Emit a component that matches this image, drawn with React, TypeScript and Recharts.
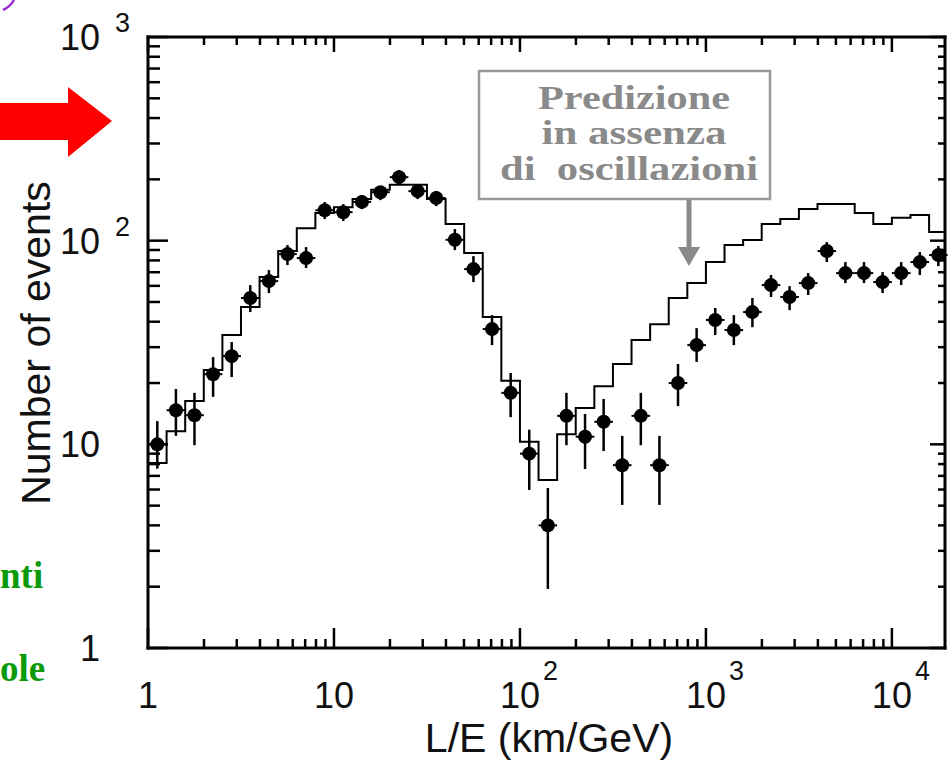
import React from "react";
import { ComposedChart, Line, Scatter, ErrorBar, XAxis, YAxis } from "recharts";

// L/E bins, 0.1 decade wide (km/GeV)
const binEdges = [
  1, 1.259, 1.585, 1.995, 2.512, 3.162, 3.981, 5.012, 6.31, 7.943,
  10, 12.59, 15.85, 19.95, 25.12, 31.62, 39.81, 50.12, 63.1, 79.43,
  100, 125.9, 158.5, 199.5, 251.2, 316.2, 398.1, 501.2, 631, 794.3,
  1000, 1259, 1585, 1995, 2512, 3162, 3981, 5012, 6310, 7943,
  10000, 12589, 15849, 19953,
];
const binCenters = [
  1.122, 1.413, 1.778, 2.239, 2.818, 3.548, 4.467, 5.623, 7.079, 8.913,
  11.22, 14.13, 17.78, 22.39, 28.18, 35.48, 44.67, 56.23, 70.79, 89.13,
  112.2, 141.3, 177.8, 223.9, 281.8, 354.8, 446.7, 562.3, 707.9, 891.3,
  1122, 1413, 1778, 2239, 2818, 3548, 4467, 5623, 7079, 8913,
  11220, 14130, 17780,
];

// observed events per bin, with error bar ends
const observed = [
  10, 14.7, 13.9, 22.1, 27.1, 52.3, 63.3, 85.9, 82.1, 141,
  138, 155, 173, 205, 175, 162, 101, 72.5, 36.8, 17.9,
  9, 4, 13.8, 10.9, 12.9, 7.9, 13.8, 7.9, 20, 30.7,
  40.8, 36.4, 44.6, 60.5, 52.9, 61.9, 88.9, 69.3, 69.3, 62.6,
  69.3, 78.5, 85,
];
const observedLow = [
  7.6, 11.0, 9.9, 17.1, 21.4, 44.6, 55.3, 75.9, 73.4, 127.6,
  124.8, 142.9, 158.2, 189.6, 160.0, 147.8, 89.9, 62.6, 30.7, 13.6,
  5.97, 1.95, 9.9, 7.56, 9.27, 5.04, 9.9, 5.04, 15.4, 25.4,
  34.4, 30.7, 37.6, 52.9, 45.6, 54.1, 78.5, 61.9, 61.9, 55.3,
  60.5, 67.8, 75.0,
];
const observedHigh = [
  13.0, 18.7, 17.9, 26.8, 31.8, 60.5, 71.7, 95.1, 93.0, 154.7,
  151.2, 167.5, 185.3, 222.2, 187.5, 175.2, 114.0, 84.0, 43.1, 22.4,
  11.8, 6.1, 17.9, 14.1, 16.7, 11.0, 17.9, 11.0, 24.8, 37.2,
  46.7, 43.1, 52.3, 67.8, 59.8, 69.3, 98.4, 78.5, 78.5, 70.1,
  78.5, 87.9, 94.1,
];

// prediction without oscillations, one height per bin
const noOscillation = [
  8.1, 11.6, 16.3, 23.2, 34.4, 47.2, 66.3, 88.9, 115, 136.6,
  146, 160, 178, 188, 188, 160, 120.6, 86.9, 42.2, 20.5,
  10.3, 6.68, 11.2, 15.1, 19.3, 24.8, 32.5, 38.9, 52.3, 61.9,
  78.5, 95.1, 100.7, 120.6, 127.6, 142.9, 151.2, 151.2, 136.6, 120.6,
  129.5, 133.5, 110.3,
];

const xTicks = [
  1, 2, 3, 4, 5, 6, 7, 8, 9,
  10, 20, 30, 40, 50, 60, 70, 80, 90,
  100, 200, 300, 400, 500, 600, 700, 800, 900,
  1000, 2000, 3000, 4000, 5000, 6000, 7000, 8000, 9000,
  10000,
];
const yTicks = [
  1, 2, 3, 4, 5, 6, 7, 8, 9,
  10, 20, 30, 40, 50, 60, 70, 80, 90,
  100, 200, 300, 400, 500, 600, 700, 800, 900,
  1000,
];

const points = binCenters.map((x, i) => ({
  x,
  y: observed[i],
  yErr: [observed[i] - observedLow[i], observedHigh[i] - observed[i]],
  xErr: [x - binEdges[i], binEdges[i + 1] - x],
}));

const histogram = noOscillation
  .map((y, i) => ({ x: binEdges[i], y }))
  .concat([{ x: binEdges[binEdges.length - 1], y: noOscillation[noOscillation.length - 1] }]);

const SANS = "'Liberation Sans', Arial, Helvetica, sans-serif";
const SERIF = "'Liberation Serif', 'Times New Roman', serif";

function decade(v: number) {
  const e = Math.round(Math.log10(v));
  return { e, major: Math.abs(Math.log10(v) - e) < 1e-6 };
}

function BottomTick(props: any) {
  const { x, y, payload } = props;
  const { e, major } = decade(payload.value);
  return (
    <g>
      <line x1={x} x2={x} y1={y} y2={y - (major ? 20 : 9)} stroke="#000" strokeWidth={2.5} />
      {major && (
        <text x={x} y={y + 60} textAnchor="middle" fontSize={36} fontFamily={SANS} fill="#111">
          {e === 0 ? "1" : "10"}
        </text>
      )}
      {major && e >= 2 && (
        <text x={x + 23} y={y + 32} fontSize={27} fontFamily={SANS} fill="#111">
          {e}
        </text>
      )}
    </g>
  );
}

function TopTick(props: any) {
  const { x, y, payload } = props;
  const { major } = decade(payload.value);
  return <line x1={x} x2={x} y1={y} y2={y + (major ? 15 : 8)} stroke="#000" strokeWidth={2.5} />;
}

function LeftTick(props: any) {
  const { x, y, payload } = props;
  const { e, major } = decade(payload.value);
  return (
    <g>
      <line x1={x} x2={x + (major ? 20 : 12)} y1={y} y2={y} stroke="#000" strokeWidth={2.5} />
      {major && (
        <text x={x - 48} y={y + 13} textAnchor="end" fontSize={36} fontFamily={SANS} fill="#111">
          {e === 0 ? "1" : "10"}
        </text>
      )}
      {major && e >= 2 && (
        <text x={x - 33} y={y - 5} fontSize={27} fontFamily={SANS} fill="#111">
          {e}
        </text>
      )}
    </g>
  );
}

function RightTick(props: any) {
  const { x, y, payload } = props;
  const { major } = decade(payload.value);
  return <line x1={x} x2={x - (major ? 15 : 7)} y1={y} y2={y} stroke="#000" strokeWidth={2.5} />;
}

const Dot = (props: any) => <circle cx={props.cx} cy={props.cy} r={7} fill="#000" />;

const frame = { stroke: "#000", strokeWidth: 3, strokeLinecap: "square" as const };

export default function App() {
  return (
    <div
      style={{
        position: "absolute",
        left: 0,
        top: 0,
        width: 949,
        height: 763,
        overflow: "hidden",
        background: "#fff",
      }}
    >
      <ComposedChart width={949} height={763} margin={{ top: 36, right: 3, bottom: 0, left: 0 }}>
        <XAxis
          xAxisId="b"
          dataKey="x"
          type="number"
          scale="log"
          domain={[1, 19300]}
          allowDataOverflow
          ticks={xTicks}
          interval={0}
          height={115}
          tickSize={0}
          tickMargin={0}
          tickLine={false}
          axisLine={frame}
          tick={(p: any) => <BottomTick {...p} />}
        />
        <XAxis
          xAxisId="t"
          orientation="top"
          dataKey="x"
          type="number"
          scale="log"
          domain={[1, 19300]}
          allowDataOverflow
          ticks={xTicks}
          interval={0}
          height={1}
          tickSize={0}
          tickMargin={0}
          tickLine={false}
          axisLine={frame}
          tick={(p: any) => <TopTick {...p} />}
        />
        <YAxis
          yAxisId="l"
          dataKey="y"
          type="number"
          scale="log"
          domain={[1, 1000]}
          allowDataOverflow
          ticks={yTicks}
          interval={0}
          width={148}
          tickSize={0}
          tickMargin={0}
          tickLine={false}
          axisLine={frame}
          tick={(p: any) => <LeftTick {...p} />}
        />
        <YAxis
          yAxisId="r"
          orientation="right"
          dataKey="y"
          type="number"
          scale="log"
          domain={[1, 1000]}
          allowDataOverflow
          ticks={yTicks}
          interval={0}
          width={1}
          tickSize={0}
          tickMargin={0}
          tickLine={false}
          axisLine={frame}
          tick={(p: any) => <RightTick {...p} />}
        />
        <Line
          xAxisId="b"
          yAxisId="l"
          data={histogram}
          dataKey="y"
          type="stepAfter"
          stroke="#000"
          strokeWidth={2}
          dot={false}
          activeDot={false}
          isAnimationActive={false}
        />
        <Scatter
          xAxisId="b"
          yAxisId="l"
          data={points}
          dataKey="y"
          fill="#000"
          shape={Dot}
          isAnimationActive={false}
        >
          <ErrorBar dataKey="yErr" direction="y" width={0} stroke="#000" strokeWidth={2.5} />
          <ErrorBar dataKey="xErr" direction="x" width={0} stroke="#000" strokeWidth={2} />
        </Scatter>
      </ComposedChart>

      <svg
        width={949}
        height={763}
        style={{ position: "absolute", left: 0, top: 0, pointerEvents: "none" }}
      >
        {/* axis titles */}
        <text x={549} y={752} textAnchor="middle" fontSize={41} fontFamily={SANS} fill="#111">
          L/E (km/GeV)
        </text>
        <text
          x={0}
          y={0}
          transform="translate(50,343) rotate(-90)"
          textAnchor="middle"
          fontSize={41}
          fontFamily={SANS}
          fill="#111"
        >
          Number of events
        </text>

        {/* prediction callout */}
        <rect x={479} y={71} width={291} height={128} fill="#fff" stroke="#999" strokeWidth={2.5} />
        <g fontFamily={SERIF} fontWeight="bold" fontSize={34} fill="#8a8a8a" textAnchor="middle">
          <text x={634} y={109} textLength={192} lengthAdjust="spacingAndGlyphs">Predizione</text>
          <text x={634} y={144} textLength={185} lengthAdjust="spacingAndGlyphs">in assenza</text>
          <text
            x={629}
            y={180}
            textLength={258}
            lengthAdjust="spacingAndGlyphs"
            style={{ whiteSpace: "pre" }}
          >
            di  oscillazioni
          </text>
        </g>
        <line x1={689} x2={689} y1={200} y2={250} stroke="#8a8a8a" strokeWidth={5} />
        <polygon points="678,247 700,247 689,266" fill="#8a8a8a" />

        {/* slide decorations at the left edge */}
        <polygon points="0,103 68,103 68,87 112,121 68,157 68,140 0,140" fill="#ff0000" />
        <path d="M 3 10 Q 10 7 14 0" stroke="#9a2fd4" strokeWidth={2.5} fill="none" />
        <g fontFamily={SERIF} fontWeight="bold" fontSize={37} fill="#0a9a0a">
          <text x={0} y={588}>nti</text>
          <text x={0} y={681}>ole</text>
        </g>
      </svg>
    </div>
  );
}
